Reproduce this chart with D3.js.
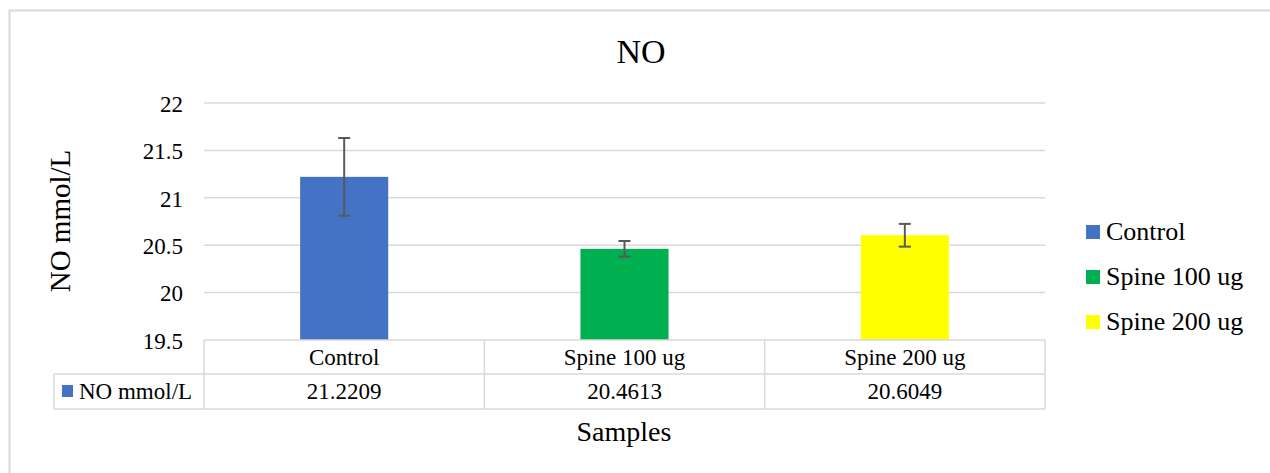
<!DOCTYPE html>
<html><head><meta charset="utf-8">
<script src="https://cdn.jsdelivr.net/npm/d3@7"></script>
<style>body{margin:0;background:#fff}svg{display:block}text{font-family:"Liberation Serif","Times New Roman",serif;fill:#000}</style>
</head><body><svg id="c" width="1270" height="473"></svg>
<script>
const categories = ["Control", "Spine 100 ug", "Spine 200 ug"];
const values = [21.2209, 20.4613, 20.6049];
const errors = [0.41, 0.083, 0.12];
const colors = ["#4472c4", "#00b050", "#ffff00"];
const yTicks = [19.5, 20, 20.5, 21, 21.5, 22];
const seriesName = "NO mmol/L";
const tableValues = ["21.2209", "20.4613", "20.6049"];

const svg = d3.select("#c");
const grid = "#d9d9d9";
const FF = "Liberation Serif";
// outer border
svg.append("path").attr("d", "M9.5,473 L9.5,10.5 L1270,10.5").attr("fill","none").attr("stroke", grid).attr("stroke-width", 2);

const L = 204, R = 1045, T = 103, B = 340;
const x = d3.scaleBand().domain(categories).range([L, R]).paddingInner(0.6857).paddingOuter(0.3429);
const xc = d3.scaleBand().domain(categories).range([L, R]);
const y = d3.scaleLinear().domain([19.5, 22]).range([B, T]);

// gridlines
svg.append("g").selectAll("line").data(yTicks.slice(1)).join("line")
  .attr("x1", L).attr("x2", R).attr("y1", d => y(d)).attr("y2", d => y(d))
  .attr("stroke", grid).attr("stroke-width", 1.5);

// y axis labels
const yAxis = d3.axisLeft(y).tickValues(yTicks).tickSize(0).tickPadding(0).tickFormat(d3.format(""));
const ya = svg.append("g").attr("transform", `translate(183,0)`).call(yAxis);
ya.attr("font-family", FF).attr("font-size", 23);
ya.select(".domain").remove();
ya.selectAll("text").attr("font-size", 23).attr("font-family", FF).attr("fill", "#000").attr("dy", "0.36em");

// bars
svg.append("g").selectAll("rect").data(categories).join("rect")
  .attr("x", d => x(d)).attr("width", x.bandwidth())
  .attr("y", (d, i) => y(values[i])).attr("height", (d, i) => B - y(values[i]))
  .attr("fill", (d, i) => colors[i]);

// error bars
const eb = svg.append("g").attr("stroke", "#595959").attr("stroke-width", 2);
categories.forEach((c, i) => {
  const cx = x(c) + x.bandwidth() / 2;
  eb.append("line").attr("x1", cx).attr("x2", cx).attr("y1", y(values[i] + errors[i])).attr("y2", y(values[i] - errors[i]));
  eb.append("line").attr("x1", cx - 6).attr("x2", cx + 6).attr("y1", y(values[i] + errors[i])).attr("y2", y(values[i] + errors[i]));
  eb.append("line").attr("x1", cx - 6).attr("x2", cx + 6).attr("y1", y(values[i] - errors[i])).attr("y2", y(values[i] - errors[i]));
});

// data table
const rowTop = B, rowMid = 374, rowBot = 409, keyL = 54;
const tb = svg.append("g").attr("stroke", grid).attr("stroke-width", 1.5).attr("fill", "none");
tb.append("line").attr("x1", L).attr("x2", R).attr("y1", rowTop).attr("y2", rowTop);
tb.append("line").attr("x1", keyL).attr("x2", R).attr("y1", rowMid).attr("y2", rowMid);
tb.append("line").attr("x1", keyL).attr("x2", R).attr("y1", rowBot).attr("y2", rowBot);
tb.append("line").attr("x1", keyL).attr("x2", keyL).attr("y1", rowMid).attr("y2", rowBot);
categories.forEach(c => {
  tb.append("line").attr("x1", xc(c)).attr("x2", xc(c)).attr("y1", rowTop).attr("y2", rowBot);
});
tb.append("line").attr("x1", R).attr("x2", R).attr("y1", rowTop).attr("y2", rowBot);

svg.append("g").selectAll("text").data(categories).join("text")
  .attr("x", d => xc(d) + xc.bandwidth() / 2).attr("y", 365).attr("text-anchor", "middle")
  .attr("font-family", FF).attr("font-size", 23).text(d => d);
svg.append("g").selectAll("text").data(categories).join("text")
  .attr("x", d => xc(d) + xc.bandwidth() / 2).attr("y", 399).attr("text-anchor", "middle")
  .attr("font-family", FF).attr("font-size", 23).text((d, i) => tableValues[i]);
svg.append("rect").attr("x", 62).attr("y", 385).attr("width", 11).attr("height", 12).attr("fill", colors[0]);
svg.append("text").attr("x", 79).attr("y", 399).attr("font-family", FF).attr("font-size", 23).text(seriesName);

// title
svg.append("text").attr("x", 641).attr("y", 63).attr("text-anchor", "middle").attr("font-family", FF).attr("font-size", 34).text("NO");
// axis titles
svg.append("text").attr("transform", "translate(70,221) rotate(-90)").attr("text-anchor", "middle").attr("font-family", FF).attr("font-size", 29).text(seriesName);
svg.append("text").attr("x", 624).attr("y", 441).attr("text-anchor", "middle").attr("font-family", FF).attr("font-size", 28).text("Samples");

// legend
const lg = svg.append("g");
categories.forEach((c, i) => {
  const by = 240 + i * 45;
  lg.append("rect").attr("x", 1086).attr("y", by - 15).attr("width", 14).attr("height", 14).attr("fill", colors[i]);
  lg.append("text").attr("x", 1106).attr("y", by).attr("font-family", FF).attr("font-size", 26).text(c);
});
</script></body></html>
